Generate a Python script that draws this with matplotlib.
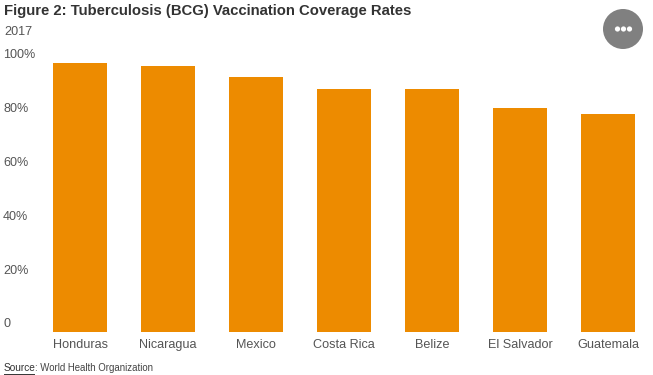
import matplotlib
matplotlib.use("Agg")
import matplotlib.pyplot as plt
from matplotlib.patches import Circle
from matplotlib.lines import Line2D

countries = ["Honduras", "Nicaragua", "Mexico", "Costa Rica", "Belize", "El Salvador", "Guatemala"]
coverage = [96, 95, 91, 87, 87, 80, 78]
y_labels = ["100%", "80%", "60%", "40%", "20%", "0"]
y_label_pos = [55, 109, 163, 217, 271, 324]  # pixels from top, labels don't line up with the bars

W, H = 653, 375
plt.rcParams["font.family"] = ["Liberation Sans", "DejaVu Sans"]

fig = plt.figure(figsize=(W / 100, H / 100), dpi=100)
ax = fig.add_axes([36 / W, (H - 332) / H, 616 / W, 280 / H])

ax.bar(range(len(countries)), coverage, width=0.614, color="#ED8B00")
ax.set_xlim(-0.5, 6.5)
ax.set_ylim(0, 100.1)
ax.set_xticks(range(len(countries)))
ax.set_xticklabels(countries, fontsize=9.1, color="#555555")
ax.tick_params(axis="x", length=0, pad=5)
ax.set_yticks([])
for s in ax.spines.values():
    s.set_visible(False)


def px(x, y):
    return x / W, (H - y) / H


for lab, y in zip(y_labels, y_label_pos):
    fig.text(*px(3, y), lab, fontsize=9.1, color="#555555", va="center", ha="left")

fig.text(*px(4, 11), "Figure 2: Tuberculosis (BCG) Vaccination Coverage Rates",
         fontsize=10.7, fontweight="bold", color="#333333", va="center", ha="left")
fig.text(*px(4, 32), "2017", fontsize=9.1, color="#555555", va="center", ha="left")

# source line
fig.text(*px(4, 368), "Source", fontsize=7.3, color="#333333", va="center", ha="left")
fig.text(*px(35, 368), ": World Health Organization", fontsize=6.9, color="#444444", va="center", ha="left")
x0, y0 = px(4, 373.5)
x1, _ = px(34, 373.5)
fig.add_artist(Line2D([x0, x1], [y0, y0], color="#333333", lw=0.7))

# menu button top right
overlay = fig.add_axes([0, 0, 1, 1])
overlay.set_xlim(0, W)
overlay.set_ylim(H, 0)
overlay.axis("off")
overlay.add_patch(Circle((623, 29), 20, color="#808080", lw=0))
for cx in [617.5, 623.5, 629.5]:
    overlay.add_patch(Circle((cx, 29), 2.6, color="white", lw=0))

fig.savefig("out.png", dpi=100)
